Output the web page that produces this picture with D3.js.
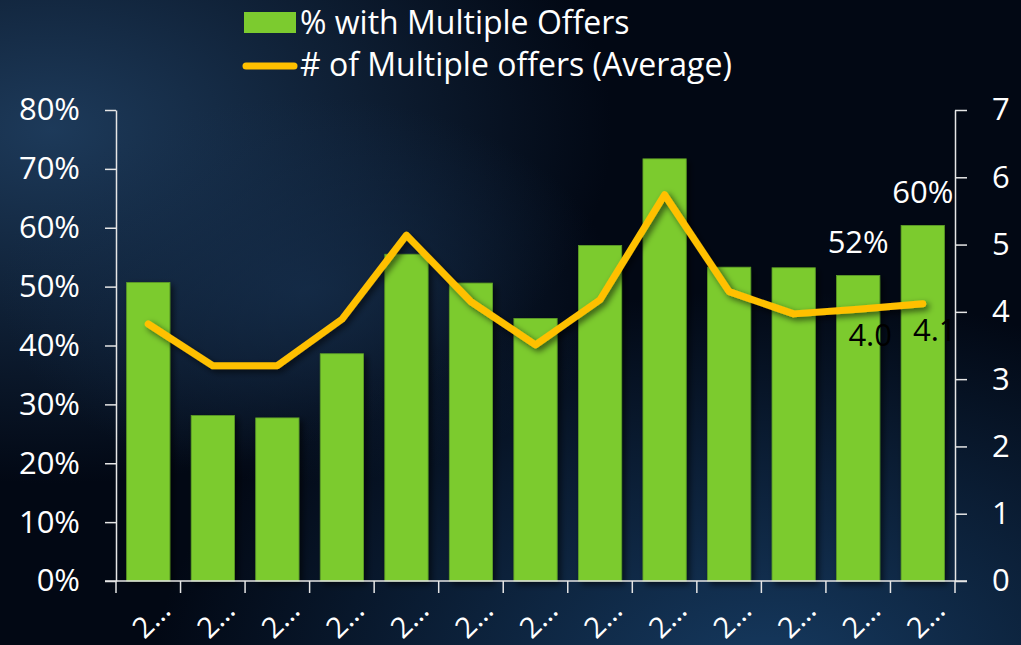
<!DOCTYPE html>
<html>
<head>
<meta charset="utf-8">
<script src="https://cdn.jsdelivr.net/npm/d3@7"></script>
<style>
  html, body { margin: 0; padding: 0; background: #020814; }
  svg { display: block; }
  text { font-family: "Open Sans", "Noto Sans", sans-serif; fill: #fff; }
</style>
</head>
<body>
<div id="chart-area"></div>
<script>
// category labels are cut off in the original, all show as "2…"
var tickLabels = ["2…","2…","2…","2…","2…","2…","2…","2…","2…","2…","2…","2…","2…"];
var pctMultiple = [0.507, 0.281, 0.277, 0.386, 0.555, 0.506, 0.446, 0.570, 0.717, 0.533, 0.532, 0.519, 0.604];
var avgOffers = [3.82, 3.20, 3.20, 3.89, 5.14, 4.15, 3.51, 4.18, 5.74, 4.30, 3.97, 4.04, 4.12];
// only the last two points carry data labels
var labelled = [11, 12];
var leftTicks = [0, 0.1, 0.2, 0.3, 0.4, 0.5, 0.6, 0.7, 0.8];
var rightTicks = [0, 1, 2, 3, 4, 5, 6, 7];
var seriesNames = ["% with Multiple Offers", "# of Multiple offers (Average)"];

var W = 1021, H = 645;
var margin = {left:116, right:66, top:110, bottom:64};
var width = W - margin.left - margin.right,
	height = H - margin.top - margin.bottom;
var fontSize = "31px";

var svg = d3.select("#chart-area")
	.append("svg")
		.attr("width", W)
		.attr("height", H);

var defs = svg.append("defs");

// background: dark navy with lighter blue patches
var bg1 = defs.append("radialGradient").attr("id", "bgTL")
	.attr("cx", "0.05").attr("cy", "0.2").attr("r", "0.55");
bg1.append("stop").attr("offset", "0%").attr("stop-color", "#1d3a5a");
bg1.append("stop").attr("offset", "100%").attr("stop-color", "#1d3a5a").attr("stop-opacity", 0);
var bg2 = defs.append("radialGradient").attr("id", "bgBR")
	.attr("cx", "0.75").attr("cy", "1.05").attr("r", "0.6");
bg2.append("stop").attr("offset", "0%").attr("stop-color", "#163a60");
bg2.append("stop").attr("offset", "100%").attr("stop-color", "#163a60").attr("stop-opacity", 0);
var bg3 = defs.append("radialGradient").attr("id", "bgMid")
	.attr("cx", "0.3").attr("cy", "0.45").attr("r", "0.3");
bg3.append("stop").attr("offset", "0%").attr("stop-color", "#173150").attr("stop-opacity", 0.7);
bg3.append("stop").attr("offset", "100%").attr("stop-color", "#173150").attr("stop-opacity", 0);

svg.append("rect").attr("width", W).attr("height", H).attr("fill", "#020814");
svg.append("rect").attr("width", W).attr("height", H).attr("fill", "url(#bgTL)");
svg.append("rect").attr("width", W).attr("height", H).attr("fill", "url(#bgMid)");
svg.append("rect").attr("width", W).attr("height", H).attr("fill", "url(#bgBR)");

var shadow = defs.append("filter").attr("id", "shadow")
	.attr("x", "-20%").attr("y", "-20%").attr("width", "150%").attr("height", "150%");
shadow.append("feDropShadow")
	.attr("dx", 3).attr("dy", 3).attr("stdDeviation", 3)
	.attr("flood-color", "#000").attr("flood-opacity", 0.6);

var g = svg.append("g")
	.attr("transform", "translate(" + margin.left + "," + margin.top + ")");

var x = d3.scaleBand()
	.domain(d3.range(tickLabels.length))
	.range([0, width])
	.paddingInner(0.33)
	.paddingOuter(0.165);

var y0 = d3.scaleLinear().domain([0, 0.8]).range([height, 0]);
var y1 = d3.scaleLinear().domain([0, 7]).range([height, 0]);

// bars
g.selectAll("rect.bar")
	.data(pctMultiple)
	.enter()
	.append("rect")
		.attr("class", "bar")
		.attr("x", function(d, i){ return x(i); })
		.attr("y", function(d){ return y0(d); })
		.attr("width", x.bandwidth())
		.attr("height", function(d){ return height - y0(d); })
		.attr("fill", "#7ccb2f")
		.attr("stroke", "#5d9e26")
		.attr("stroke-width", 0.8)
		.attr("filter", "url(#shadow)");

// line
var line = d3.line()
	.x(function(d, i){ return x(i) + x.bandwidth() / 2; })
	.y(function(d){ return y1(d); });

g.append("path")
	.datum(avgOffers)
	.attr("d", line)
	.attr("fill", "none")
	.attr("stroke", "#ffc000")
	.attr("stroke-width", 7)
	.attr("stroke-linejoin", "round")
	.attr("stroke-linecap", "round")
	.attr("filter", "url(#shadow)");

// axes
function styleAxis(sel) {
	sel.select(".domain").attr("stroke", "#e6e6e6").attr("stroke-width", 1.5);
	sel.selectAll(".tick line").attr("stroke", "#e6e6e6").attr("stroke-width", 1.5);
	sel.selectAll(".tick text").attr("fill", "#fff").style("font-size", fontSize)
		.style("font-family", "'Open Sans', 'Noto Sans', sans-serif");
}

var yAxisCall = d3.axisLeft(y0)
	.tickValues(leftTicks)
	.tickFormat(d3.format(".0%"))
	.tickSize(11)
	.tickSizeOuter(0)
	.tickPadding(25);
g.append("g")
	.attr("class", "y-axis")
	.call(yAxisCall)
	.call(styleAxis);

var yAxisCallRight = d3.axisRight(y1)
	.tickValues(rightTicks)
	.tickFormat(d3.format("d"))
	.tickSize(12)
	.tickSizeOuter(0)
	.tickPadding(25);
g.append("g")
	.attr("class", "y-axisRight")
	.attr("transform", "translate(" + width + ",0)")
	.call(yAxisCallRight)
	.call(styleAxis);

// x axis: ticks at category boundaries, line runs a little past both value axes
var boundaries = d3.range(tickLabels.length + 1).map(function(i){
	return i === tickLabels.length ? width : x(i) - x.step() * x.paddingInner() / 2;
});
var xAxis = g.append("g").attr("class", "x-axis")
	.attr("transform", "translate(0," + height + ")");
xAxis.append("line")
	.attr("x1", -11).attr("x2", width + 12)
	.attr("stroke", "#e6e6e6").attr("stroke-width", 1.5);
xAxis.selectAll("line.tk")
	.data(boundaries)
	.enter()
	.append("line")
		.attr("class", "tk")
		.attr("x1", function(d){ return d; })
		.attr("x2", function(d){ return d; })
		.attr("y1", 0).attr("y2", 12)
		.attr("stroke", "#e6e6e6").attr("stroke-width", 1.5);
xAxis.selectAll("text.xl")
	.data(tickLabels)
	.enter()
	.append("text")
		.attr("class", "xl")
		.attr("text-anchor", "middle")
		.attr("transform", function(d, i){
			return "translate(" + (x(i) + x.bandwidth() / 2 + 4) + ",39) rotate(-45)";
		})
		.attr("dy", "0.3em")
		.style("font-size", "29px")
		.text(function(d){ return d; });

// data labels
g.selectAll("text.barLabel")
	.data(labelled)
	.enter()
	.append("text")
		.attr("class", "barLabel")
		.attr("text-anchor", "middle")
		.attr("x", function(i){ return x(i) + x.bandwidth() / 2; })
		.attr("y", function(i){ return y0(pctMultiple[i]) - 22; })
		.style("font-size", fontSize)
		.text(function(i){ return d3.format(".0%")(pctMultiple[i]); });

g.selectAll("text.lineLabel")
	.data(labelled)
	.enter()
	.append("text")
		.attr("class", "lineLabel")
		.attr("text-anchor", "middle")
		.attr("x", function(i){ return x(i) + x.bandwidth() / 2 + 12; })
		.attr("y", function(i){ return y1(avgOffers[i]) + 37; })
		.style("font-size", fontSize)
		.style("fill", "#000")
		.text(function(i){ return d3.format(".1f")(avgOffers[i]); });

// legend
var legend = svg.append("g").attr("class", "legend");
legend.append("rect")
	.attr("x", 244).attr("y", 12)
	.attr("width", 52).attr("height", 21)
	.attr("fill", "#7ccb2f");
legend.append("line")
	.attr("x1", 246).attr("x2", 294)
	.attr("y1", 66).attr("y2", 66)
	.attr("stroke", "#ffc000").attr("stroke-width", 7)
	.attr("stroke-linecap", "round");
legend.selectAll("text")
	.data(seriesNames)
	.enter()
	.append("text")
		.attr("x", 300)
		.attr("y", function(d, i){ return 34 + i * 42; })
		.style("font-size", "32px")
		.text(function(d){ return d; });
</script>
</body>
</html>
